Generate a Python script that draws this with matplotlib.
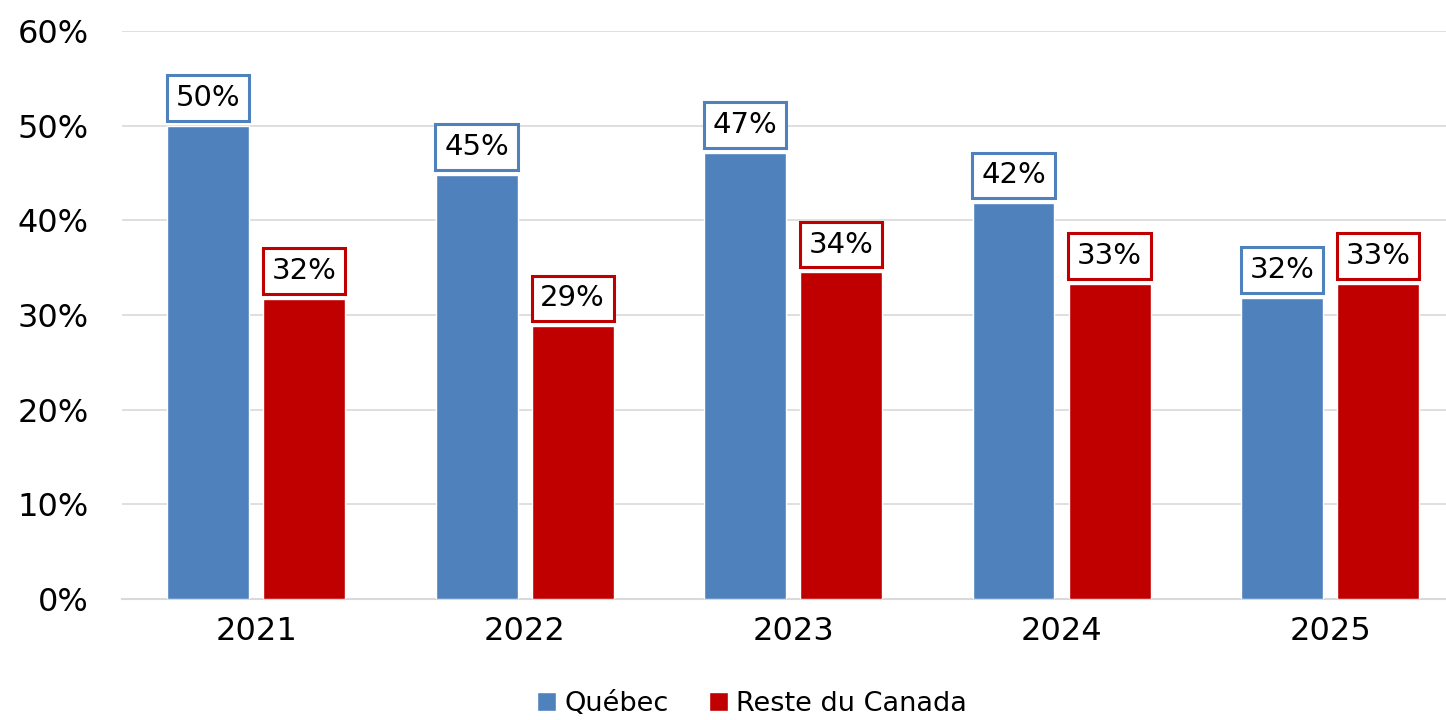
import matplotlib.pyplot as plt
import numpy as np

YEARS = ["2021", "2022", "2023", "2024", "2025"]
QUEBEC = [50.0, 44.8, 47.1, 41.8, 31.8]
RESTE_CANADA = [31.7, 28.8, 34.5, 33.3, 33.3]
SERIES_NAMES = ["Québec", "Reste du Canada"]

BLUE = "#4F81BD"
RED = "#C00000"

plt.rcParams["font.family"] = ["DejaVu Sans"]

fig = plt.figure(figsize=(14.46, 7.2), dpi=100)
ax = fig.add_axes([122 / 1446, 121 / 720, 1 - 122 / 1446, 568 / 720])

x = np.arange(len(YEARS))
width = 0.305
offset = 0.179

bars_q = ax.bar(x - offset, QUEBEC, width, color=BLUE, edgecolor="white",
                linewidth=1, label=SERIES_NAMES[0], zorder=3)
bars_r = ax.bar(x + offset, RESTE_CANADA, width, color=RED, edgecolor="white",
                linewidth=1, label=SERIES_NAMES[1], zorder=3)

# étiquettes encadrées au-dessus des barres
for bars, vals, col in [(bars_q, QUEBEC, BLUE), (bars_r, RESTE_CANADA, RED)]:
    for b, v in zip(bars, vals):
        ax.annotate(f"{v:.0f}%", (b.get_x() + b.get_width() / 2, v),
                    xytext=(0, 10), textcoords="offset points",
                    ha="center", va="bottom", fontsize=21, color="black",
                    bbox=dict(boxstyle="square,pad=0.3", fc="white",
                              ec=col, lw=2.2), zorder=4)

ax.set_ylim(0, 60)
ax.set_yticks(range(0, 61, 10))
ax.set_yticklabels([f"{t}%" for t in range(0, 61, 10)])
ax.set_xlim(-0.5, (1446 - 256) / 268.5)
ax.set_xticks(x)
ax.set_xticklabels(YEARS)
ax.tick_params(axis="both", length=0, labelsize=23, pad=12)
ax.tick_params(axis="y", pad=24)

ax.grid(axis="y", color="#D9D9D9", linewidth=1.2, zorder=0)
ax.set_axisbelow(True)
for s in ["top", "right", "left"]:
    ax.spines[s].set_visible(False)
ax.spines["bottom"].set_color("#D9D9D9")
ax.spines["bottom"].set_linewidth(1.5)

fig.legend(handles=[bars_q, bars_r], labels=SERIES_NAMES, loc="lower center",
           bbox_to_anchor=(0.52, -0.03), ncol=2, frameon=False, fontsize=19.5,
           handlelength=0.7, handleheight=0.7, handletextpad=0.3,
           columnspacing=1.5)

fig.savefig("out.png", dpi=100)
